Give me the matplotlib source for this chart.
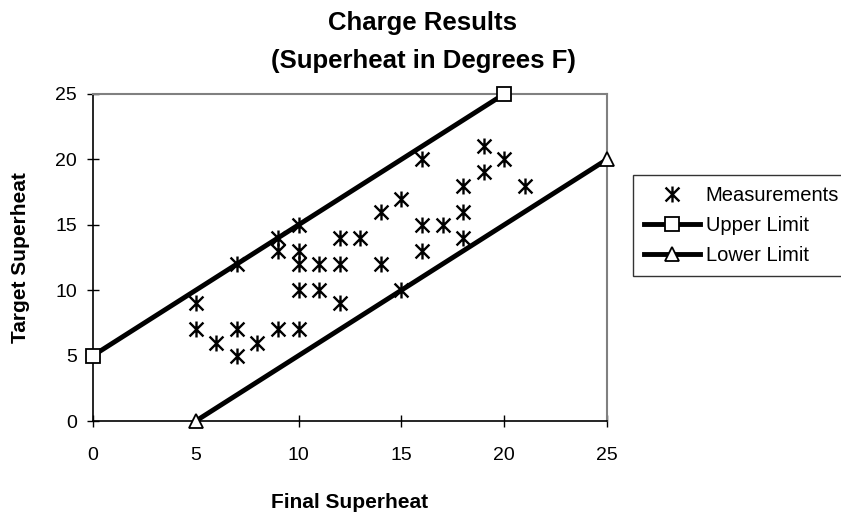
import numpy as np
import matplotlib
matplotlib.use("Agg")
import matplotlib.pyplot as plt
from matplotlib.path import Path

plt.rcParams['font.family'] = ['Liberation Sans', 'DejaVu Sans']

# measurements (final superheat, target superheat)
meas_x = [5, 5, 6, 7, 7, 7, 8, 9, 9, 9, 10, 10, 10, 10, 10, 11, 11, 12, 12, 12,
          13, 14, 14, 15, 15, 16, 16, 16, 17, 18, 18, 18, 19, 19, 20, 21]
meas_y = [9, 7, 6, 12, 7, 5, 6, 14, 13, 7, 15, 13, 12, 10, 7, 12, 10, 14, 12, 9,
          14, 16, 12, 17, 10, 20, 15, 13, 15, 18, 16, 14, 21, 19, 20, 18]

upper_x = [0, 20]
upper_y = [5, 25]
lower_x = [5, 25]
lower_y = [0, 20]

ticks = [0, 5, 10, 15, 20, 25]

# excel style asterisk: X with a vertical bar
star = Path([(-1, -1), (1, 1), (-1, 1), (1, -1), (0, -1.15), (0, 1.15)],
            [Path.MOVETO, Path.LINETO, Path.MOVETO, Path.LINETO, Path.MOVETO, Path.LINETO])

fig = plt.figure(figsize=(8.41, 5.12), dpi=100)
ax = fig.add_axes([93/841, 1-421/512, 514/841, 327/512])

ax.plot(upper_x, upper_y, color='black', lw=3.5, marker='s', ms=9.5,
        mfc='white', mec='black', mew=1.3, clip_on=False, label='Upper Limit', zorder=3)
ax.plot(lower_x, lower_y, color='black', lw=3.5, marker='^', ms=10.5,
        mfc='white', mec='black', mew=1.3, clip_on=False, label='Lower Limit', zorder=3)
ax.plot(meas_x, meas_y, ls='none', marker=star, ms=11.5, mfc='none', mec='black',
        mew=1.7, label='Measurements', zorder=4)

ax.set_xlim(0, 25)
ax.set_ylim(0, 25)
ax.set_xticks(ticks)
ax.set_yticks(ticks)
ax.tick_params(axis='both', direction='inout', length=9, width=1, labelsize=14)
ax.tick_params(axis='x', pad=14)
ax.tick_params(axis='y', pad=7)

for s in ['top', 'right']:
    ax.spines[s].set_color('#808080')
    ax.spines[s].set_linewidth(1.5)
for s in ['left', 'bottom']:
    ax.spines[s].set_color('black')
    ax.spines[s].set_linewidth(1.2)

ax.set_xlabel('Final Superheat', fontsize=15, fontweight='bold', va='center')
ax.xaxis.set_label_coords(0.5, -0.25)
ax.set_ylabel('Target Superheat', fontsize=15, fontweight='bold', va='center')
ax.yaxis.set_label_coords(-0.142, 0.5)

fig.text(423/841, 1-23/512, 'Charge Results', ha='center', va='center',
         fontsize=18.5, fontweight='bold')
fig.text(423/841, 1-61/512, '(Superheat in Degrees F)', ha='center', va='center',
         fontsize=18.5, fontweight='bold')

h, l = ax.get_legend_handles_labels()
order = [2, 0, 1]
leg = fig.legend([h[i] for i in order], [l[i] for i in order],
                 loc='upper left', bbox_to_anchor=(633/841, 1-175/512),
                 fontsize=14.5, frameon=True, fancybox=False, edgecolor='black',
                 handlelength=2.8, handletextpad=0.25, labelspacing=0.55,
                 borderpad=0.55, borderaxespad=0)
leg.get_frame().set_linewidth(1)

fig.savefig('out.png', dpi=100)
